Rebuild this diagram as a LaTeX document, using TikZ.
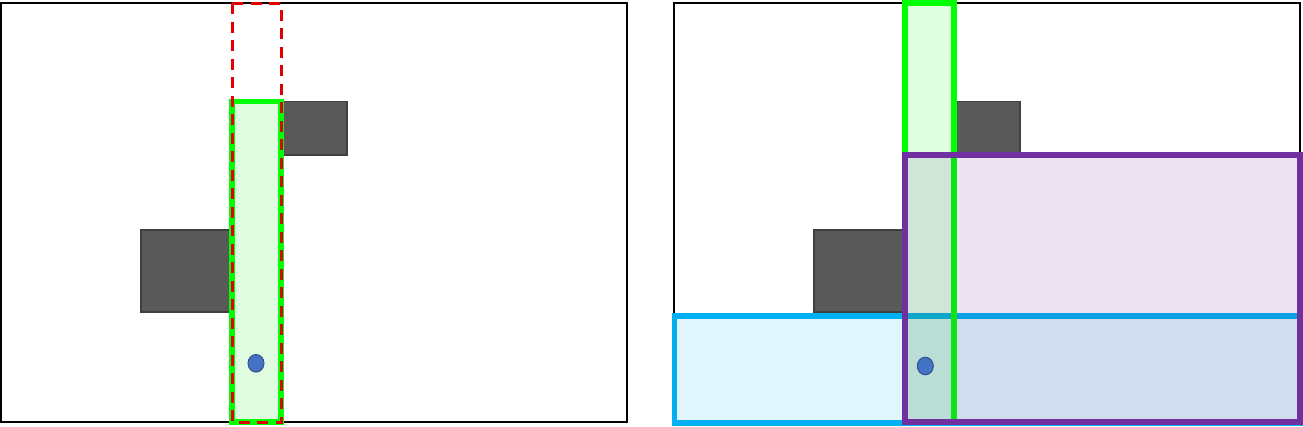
\documentclass[tikz,border=0pt]{standalone}
\usetikzlibrary{calc}
\definecolor{grayfill}{HTML}{595959}
\definecolor{grayedge}{HTML}{404040}
\definecolor{gcol}{HTML}{00FF00}
\definecolor{gfill}{HTML}{E0FCE0}
\definecolor{rcol}{HTML}{E00000}
\definecolor{bcol}{HTML}{00B0F0}
\definecolor{pcol}{HTML}{7030A0}
\definecolor{dotfill}{HTML}{4472C4}
\definecolor{dotedge}{HTML}{2F528F}
\tikzset{
  frame/.style={draw=black, line width=2pt},
  block/.style={draw=grayedge, fill=grayfill, line width=1.2pt},
  greenbox/.style={draw=gcol, line width=5.5pt},
  reddash/.style={draw=rcol, line width=3pt, dash pattern=on 11pt off 7.5pt},
  bluebox/.style={draw=bcol, line width=5.5pt, fill=bcol, fill opacity=0.12},
  purplebox/.style={draw=pcol, line width=5.5pt, fill=pcol, fill opacity=0.13},
  dot/.style={draw=dotedge, fill=dotfill, line width=1pt}
}
\begin{document}
\begin{tikzpicture}[x=1pt,y=-1pt]
\useasboundingbox (0,0) rectangle (1303,426);
% left panel
\draw[frame] (1,3) rectangle (627,422);
\draw[block] (281,101.5) rectangle (347,155);
\draw[block] (141,230) rectangle (232,312);
\draw[greenbox, fill=gfill] (232,101.5) rectangle (281,422);
\draw[reddash] (232,3) rectangle (281,422);
\draw[dot] (256,363.3) ellipse (8 and 8.8);
% right panel
\draw[frame] (674,3) rectangle (1300,422);
\draw[block] (954,101.5) rectangle (1020,155);
\draw[block] (814,230) rectangle (905,312);
\draw[bluebox, draw opacity=1] (674.5,316) rectangle (1300,423);
\draw[greenbox, fill=gcol, fill opacity=0.12, draw opacity=1] (905,3) rectangle (954,422);
\draw[purplebox, draw opacity=1] (905,155) rectangle (1300,422);
\draw[dot] (925.3,366) ellipse (8 and 8.8);
\end{tikzpicture}
\end{document}
